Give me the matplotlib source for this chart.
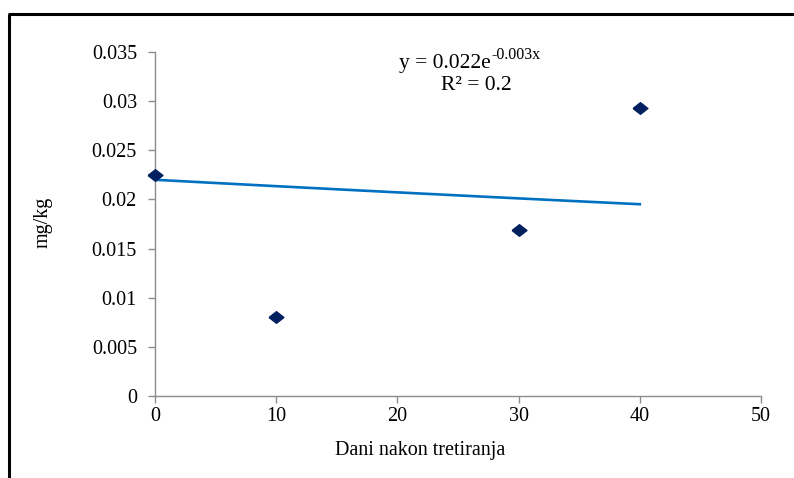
import numpy as np
import matplotlib
matplotlib.use("Agg")
import matplotlib.pyplot as plt
from matplotlib.lines import Line2D

plt.rcParams['font.family'] = ['Liberation Serif', 'DejaVu Serif']

# Residue measurements
days = [0, 10, 30, 40]
residue = [0.0225, 0.008, 0.0169, 0.0293]

# Exponential trendline y = a * exp(b * x)
trend_a = 0.022
trend_b = -0.003
r_squared = 0.2

x_ticks = [0, 10, 20, 30, 40, 50]
y_ticks = [0, 0.005, 0.01, 0.015, 0.02, 0.025, 0.03, 0.035]
y_tick_labels = ['0', '0.005', '0.01', '0.015', '0.02', '0.025', '0.03', '0.035']

W, H = 794, 478
fig = plt.figure(figsize=(W / 100, H / 100), dpi=100)
ax = fig.add_axes([155 / W, 1 - 396 / H, (761 - 155) / W, (396 - 52) / H])

# Frame lines around the figure (left and top)
fig.add_artist(Line2D([9 / W, 9 / W], [0, 1 - 14 / H], color='black', lw=2.2,
                      transform=fig.transFigure, solid_capstyle='butt'))
fig.add_artist(Line2D([8 / W, 1], [1 - 14 / H, 1 - 14 / H], color='black', lw=2.2,
                      transform=fig.transFigure, solid_capstyle='butt'))

# Trendline
xt = np.linspace(days[0], days[-1], 100)
ax.plot(xt, trend_a * np.exp(trend_b * xt), color='#0070C0', lw=1.9, zorder=2)

# Diamond markers, slightly wider than tall
diamond = [(-1, 0), (0, 0.78), (1, 0), (0, -0.78), (-1, 0)]
ax.scatter(days, residue, marker=diamond, s=115, color='#002060', zorder=3, clip_on=False)

ax.set_xlim(0, 50)
ax.set_ylim(0, 0.035)
ax.set_xticks(x_ticks)
ax.set_xticklabels([str(t) for t in x_ticks])
ax.set_yticks(y_ticks)
ax.set_yticklabels(y_tick_labels)

fs = 14.5
for side in ['top', 'right']:
    ax.spines[side].set_visible(False)
for side in ['left', 'bottom']:
    ax.spines[side].set_color('#8c8c8c')
    ax.spines[side].set_linewidth(1.0)
ax.tick_params(axis='both', direction='out', length=5, width=1.0, color='#8c8c8c',
               labelsize=fs, labelcolor='black')
ax.tick_params(axis='x', pad=3)
ax.tick_params(axis='y', pad=8)

ax.set_xlabel('Dani nakon tretiranja', fontsize=fs)
ax.xaxis.set_label_coords((420 - 155) / 606, (396 - 451) / 344)
ax.xaxis.label.set_va('center')
ax.set_ylabel('mg/kg', fontsize=fs)
ax.yaxis.set_label_coords((43 - 155) / 606, (396 - 222) / 344)
ax.yaxis.label.set_va('center')

# Trendline equation and R²
x_split = 491 / W
fig.text(x_split, 1 - 68 / H, 'y = 0.022e', ha='right', va='baseline', fontsize=15.5)
fig.text(x_split, 1 - 59 / H, '-0.003x', ha='left', va='baseline', fontsize=11.5)
fig.text(476 / W, 1 - 90 / H, 'R² = 0.2', ha='center', va='baseline', fontsize=15.5)

fig.savefig('out.png', dpi=100)
